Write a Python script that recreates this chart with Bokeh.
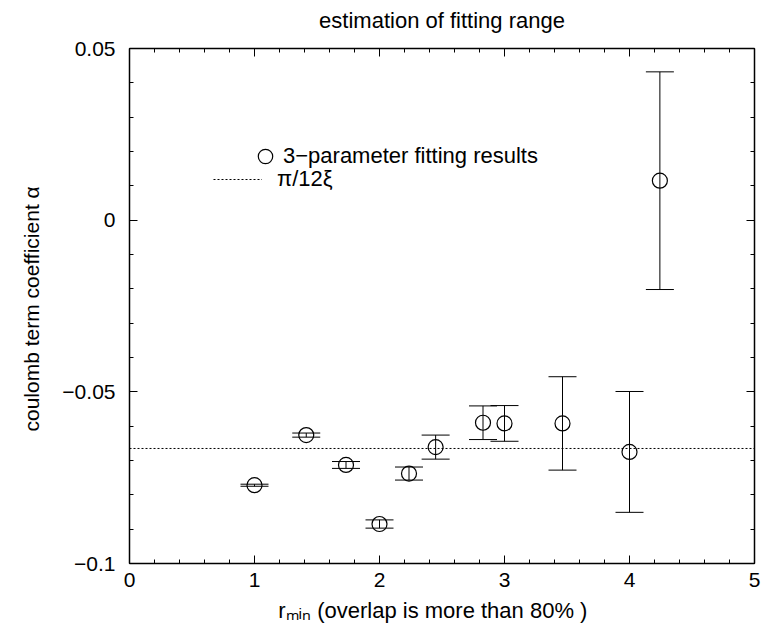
from bokeh.plotting import figure
from bokeh.models import (ColumnDataSource, Whisker, TeeHead, LinearAxis, Legend,
                          LegendItem, SingleIntervalTicker, Range1d,
                          CustomJSTickFormatter)
from bokeh.embed import file_html
from bokeh.resources import INLINE

# ---- data ----
r_min = [1.0, 1.414, 1.732, 2.0, 2.236, 2.449, 2.828, 3.0, 3.464, 4.0, 4.243]
alpha = [-0.0772, -0.0626, -0.0713, -0.0885, -0.0738, -0.0661, -0.0590, -0.0592,
         -0.0592, -0.0675, 0.0115]
alpha_err = [0.0003, 0.0006, 0.0010, 0.0012, 0.0019, 0.0035, 0.0049, 0.0052,
             0.0136, 0.0176, 0.0317]
pi_over_12xi = -0.0665
x_limits = [0, 5]
y_limits = [-0.1, 0.05]
x_tick_step = 1
y_tick_step = 0.05

FONT = "Liberation Sans"
NB = "\u00a0"

src = ColumnDataSource(dict(
    x=r_min, y=alpha,
    upper=[a + e for a, e in zip(alpha, alpha_err)],
    lower=[a - e for a, e in zip(alpha, alpha_err)],
))

p = figure(width=763, height=627,
           x_range=Range1d(*x_limits), y_range=Range1d(*y_limits),
           output_backend="svg", toolbar_location=None,
           min_border_left=129, min_border_right=9,
           min_border_top=48, min_border_bottom=64,
           x_axis_type=None, y_axis_type=None)
p.outline_line_color = None
p.background_fill_color = "white"
p.border_fill_color = "white"

p.title.text = "estimation of fitting range"
p.title.text_font = FONT
p.title.text_font_size = "22px"
p.title.text_font_style = "normal"
p.title.text_color = "black"
p.title.align = "center"
p.title.standoff = 8

yfmt = CustomJSTickFormatter(code="""
const v = Math.round(tick*1000)/1000;
return v < 0 ? '\\u2212' + String(-v) : String(v);
""")


def make_axis(kind, place, labels):
    if kind == "x":
        ticker = SingleIntervalTicker(interval=x_tick_step, num_minor_ticks=5)
    else:
        ticker = SingleIntervalTicker(interval=y_tick_step, num_minor_ticks=5)
    if labels:
        ax = LinearAxis(ticker=ticker, formatter=yfmt) if kind == "y" else LinearAxis(ticker=ticker)
    else:
        ax = LinearAxis(ticker=ticker, formatter=CustomJSTickFormatter(code="return ''"))
    ax.axis_line_color = "black"
    ax.axis_line_width = 1.5
    ax.major_tick_in = 8
    ax.major_tick_out = 0
    ax.minor_tick_in = 4
    ax.minor_tick_out = 0
    ax.major_tick_line_color = "black"
    ax.minor_tick_line_color = "black"
    ax.major_tick_line_width = 1
    ax.minor_tick_line_width = 1
    if labels:
        ax.major_label_text_font = FONT
        ax.major_label_text_font_size = "21px"
        ax.major_label_text_color = "black"
        ax.major_label_standoff = 9 if kind == "x" else 14
    else:
        ax.major_label_text_font_size = "1px"
        ax.major_label_text_color = None
        ax.major_label_standoff = 0
    p.add_layout(ax, place)
    return ax


xb = make_axis("x", "below", True)
make_axis("x", "above", False)
yl = make_axis("y", "left", True)
make_axis("y", "right", False)

# invisible spacer above the frame, lifts the title
spacer = make_axis("x", "above", False)
spacer.axis_line_color = None
spacer.major_tick_line_color = None
spacer.minor_tick_line_color = None
spacer.major_tick_in = 0
spacer.minor_tick_in = 0
spacer.major_tick_out = 12
spacer.minor_tick_out = 0

yl.axis_label = "coulomb term coefficient  \u03b1"
yl.axis_label_text_font = FONT
yl.axis_label_text_font_size = "21px"
yl.axis_label_text_font_style = "normal"
yl.axis_label_text_color = "black"
yl.axis_label_standoff = 16

# x-axis label: r with subscript "min"
xb.axis_label = "r\u2098\u1d62\u2099" + NB + "(overlap is more than 80% )" + NB * 3
xb.axis_label_text_font = FONT
xb.axis_label_text_font_size = "22px"
xb.axis_label_text_font_style = "normal"
xb.axis_label_text_color = "black"
xb.axis_label_standoff = 8

# reference line
ref_r = p.line(x=x_limits, y=[pi_over_12xi, pi_over_12xi], line_color="black",
               line_width=1, line_dash="2 2")

# error bars
wh = Whisker(source=src, base="x", upper="upper", lower="lower",
             dimension="height", line_color="black", line_width=1,
             upper_head=TeeHead(size=28, line_color="black", line_width=1),
             lower_head=TeeHead(size=28, line_color="black", line_width=1))
p.add_layout(wh)

pts = p.scatter(x="x", y="y", source=src, marker="circle", size=15,
                fill_color=None, line_color="black", line_width=1.2)

# legends
leg1 = Legend(items=[LegendItem(label="3\u2212parameter fitting results", renderers=[pts])],
              location=(118, 389), glyph_width=36, glyph_height=36,
              label_standoff=0, padding=0, margin=0, spacing=0,
              border_line_color=None, background_fill_alpha=0,
              label_text_font=FONT, label_text_font_size="22px",
              label_text_color="black", label_height=24)
leg2 = Legend(items=[LegendItem(label="\u03c0/12\u03be", renderers=[ref_r])],
              location=(84, 371), glyph_width=49, glyph_height=24,
              label_standoff=15, padding=0, margin=0, spacing=0,
              border_line_color=None, background_fill_alpha=0,
              label_text_font=FONT, label_text_font_size="22px",
              label_text_color="black", label_height=24)
p.add_layout(leg1)
p.add_layout(leg2)

open("out.html", "w").write(file_html(p, INLINE))
